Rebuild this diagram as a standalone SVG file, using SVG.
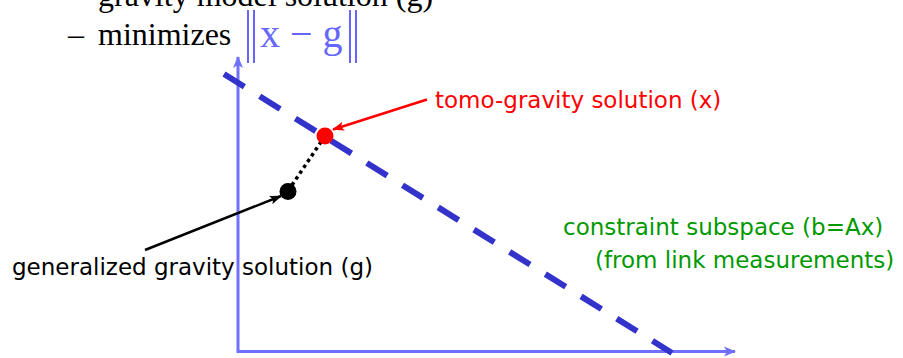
<svg xmlns="http://www.w3.org/2000/svg" width="903" height="358" viewBox="0 0 903 358">
<defs>
<style>
.serif{font-family:"Liberation Serif","Times New Roman",serif;}
.sans{font-family:"DejaVu Sans",Verdana,sans-serif;font-size:23px;}
.axis{stroke:#7070ff;stroke-width:3;fill:none;}
</style>
<marker id="axhead" viewBox="0 0 12 12" refX="11" refY="6" markerWidth="12" markerHeight="12" markerUnits="userSpaceOnUse" orient="auto">
<path d="M0,1 L12,6 L0,11 L3,6 Z" fill="#7070ff"/>
</marker>
<marker id="redhead" viewBox="0 0 12 10" refX="11" refY="5" markerWidth="12" markerHeight="10" markerUnits="userSpaceOnUse" orient="auto">
<path d="M0,0.5 L12,5 L0,9.5 L2.5,5 Z" fill="#ff0000"/>
</marker>
<marker id="blackhead" viewBox="0 0 12 10" refX="11" refY="5" markerWidth="12" markerHeight="10" markerUnits="userSpaceOnUse" orient="auto">
<path d="M0,0.5 L12,5 L0,9.5 L2.5,5 Z" fill="#000000"/>
</marker>
</defs>
<rect width="903" height="358" fill="#ffffff"/>
<g id="header">
<text class="serif" x="98" y="6" font-size="32" fill="#000000">gravity model solution (g)</text>
<text class="serif" x="68" y="45" font-size="32" fill="#000000">–</text>
<text class="serif" x="98" y="45" font-size="32" fill="#000000">minimizes</text>
<g id="norm" stroke="#6666ff" stroke-width="2">
<line x1="248" y1="10" x2="248" y2="63"/>
<line x1="254" y1="10" x2="254" y2="63"/>
<line x1="350" y1="10" x2="350" y2="63"/>
<line x1="356" y1="10" x2="356" y2="63"/>
</g>
<text class="serif" x="260" y="47" font-size="40" fill="#6666ff">x − g</text>
</g>
<g id="axes">
<line class="axis" x1="238" y1="353" x2="238" y2="57" marker-end="url(#axhead)"/>
<line class="axis" x1="237" y1="351.5" x2="735" y2="351.5" marker-end="url(#axhead)"/>
</g>
<g id="connectors">
<line id="constraint-line" x1="224" y1="74" x2="672" y2="353" stroke="#3333cc" stroke-width="6" stroke-dasharray="24 18.06"/>
<line id="dotted" x1="288" y1="191" x2="325" y2="136" stroke="#000000" stroke-width="3.5" stroke-dasharray="3.5 3.5"/>
<line id="red-arrow" x1="427" y1="99.5" x2="333" y2="129.5" stroke="#ff0000" stroke-width="2.5" marker-end="url(#redhead)"/>
<line id="black-arrow" x1="145" y1="250" x2="281" y2="196" stroke="#000000" stroke-width="2.5" marker-end="url(#blackhead)"/>
</g>
<g id="node-x">
<circle cx="325" cy="136" r="8.5" fill="#ff0000"/>
<text class="sans" x="435" y="108" fill="#ff0000">tomo-gravity solution (x)</text>
</g>
<g id="node-g">
<circle cx="288" cy="191.5" r="8.5" fill="#000000"/>
<text class="sans" x="12" y="275" fill="#000000">generalized gravity solution (g)</text>
</g>
<g id="node-constraint">
<text class="sans" x="563" y="235" fill="#009900">constraint subspace (b=Ax)</text>
<text class="sans" x="595" y="268" fill="#009900">(from link measurements)</text>
</g>
</svg>
